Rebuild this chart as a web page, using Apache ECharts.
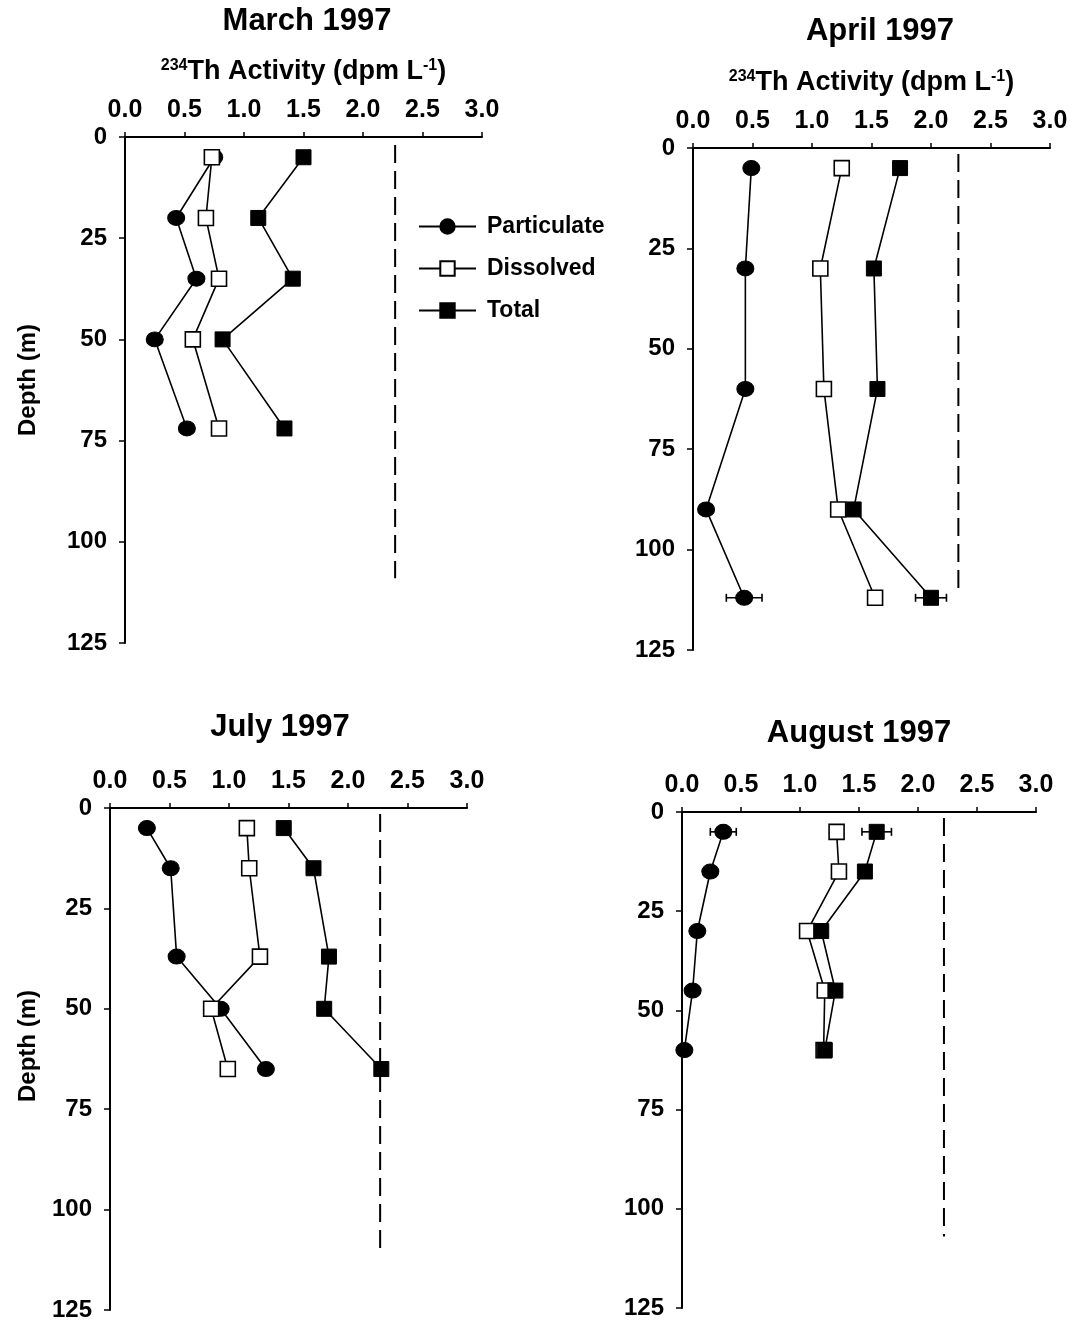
<!DOCTYPE html>
<html>
<head>
<meta charset="utf-8">
<title>234Th profiles 1997</title>
<script src="https://cdn.jsdelivr.net/npm/echarts@6/dist/echarts.min.js"></script>
<style>
  html, body { margin: 0; padding: 0; background: #ffffff; }
  #chart { width: 1074px; height: 1326px; }
</style>
</head>
<body>
<div id="chart"></div>
<script>
// ---- data: 234Th activity (dpm/L) versus depth (m), four 1997 cruises ----
const months = ['March 1997', 'April 1997', 'July 1997', 'August 1997'];
const seriesNames = ['Particulate', 'Dissolved', 'Total'];

const depthMar = [5, 20, 35, 50, 72];
const depthApr = [5, 30, 60, 90, 112];
const depthJul = [5, 15, 37, 50, 65];
const depthAug = [5, 15, 30, 45, 60];

const partMar = [0.75, 0.43, 0.60, 0.25, 0.52];
const partApr = [0.49, 0.44, 0.44, 0.11, 0.43];
const partJul = [0.31, 0.51, 0.56, 0.93, 1.31];
const partAug = [0.35, 0.24, 0.13, 0.09, 0.02];

const dissMar = [0.73, 0.68, 0.79, 0.57, 0.79];
const dissApr = [1.25, 1.07, 1.10, 1.22, 1.53];
const dissJul = [1.15, 1.17, 1.26, 0.85, 0.99];
const dissAug = [1.31, 1.33, 1.06, 1.21, 1.20];

const totMar = [1.50, 1.12, 1.41, 0.82, 1.34];
const totApr = [1.74, 1.52, 1.55, 1.35, 2.00];
const totJul = [1.46, 1.71, 1.84, 1.80, 2.28];
const totAug = [1.65, 1.55, 1.18, 1.30, 1.21];

// 238U activity (dashed reference line) and the depth range it spans
const uranium = [2.27, 2.23, 2.27, 2.22];
const uranTop = [2, 1.5, 1.5, 1.5];
const uranBottom = [109, 111, 110, 107];

// error bars: [depth, value, +/- error]
const errPartApr = [[112, 0.43, 0.15]];
const errTotApr = [[112, 2.00, 0.13]];
const errPartAug = [[5, 0.35, 0.11]];
const errTotAug = [[5, 1.65, 0.125]];

// axis ticks
const activityTicks = [0, 0.5, 1.0, 1.5, 2.0, 2.5, 3.0];
const depthTicks = [0, 25, 50, 75, 100, 125];

// ---- layout ----
const FONT = '"Liberation Sans", Arial, Helvetica, sans-serif';
const gridBoxes = [
  { left: 125, top: 137, width: 357, height: 506 },
  { left: 693, top: 148, width: 357, height: 502 },
  { left: 110, top: 808, width: 357, height: 502 },
  { left: 682, top: 812, width: 354, height: 496 }
];
const titleAt = [[307, 21], [880, 31], [280, 727], [859, 733]];
const depthLabelAt = [[28, 380], null, [28, 1046], null];
const showActivityName = [true, true, false, false];

const panels = [
  { depth: depthMar, part: partMar, diss: dissMar, tot: totMar, err: [[], []] },
  { depth: depthApr, part: partApr, diss: dissApr, tot: totApr, err: [errPartApr, errTotApr] },
  { depth: depthJul, part: partJul, diss: dissJul, tot: totJul, err: [[], []] },
  { depth: depthAug, part: partAug, diss: dissAug, tot: totAug, err: [errPartAug, errTotAug] }
];

const black = '#000000';

function pairUp(values, depths) {
  return values.map((v, k) => [v, depths[k]]);
}

// horizontal error bar with end caps, positioned through the axes
function renderErrorBar(params, api) {
  const d = api.value(0), v = api.value(1), e = api.value(2);
  const a = api.coord([v - e, d]);
  const b = api.coord([v + e, d]);
  const cap = 4;
  const st = { stroke: black, lineWidth: 1.6 };
  return {
    type: 'group',
    children: [
      { type: 'line', shape: { x1: a[0], y1: a[1], x2: b[0], y2: b[1] }, style: st },
      { type: 'line', shape: { x1: a[0], y1: a[1] - cap, x2: a[0], y2: a[1] + cap }, style: st },
      { type: 'line', shape: { x1: b[0], y1: b[1] - cap, x2: b[0], y2: b[1] + cap }, style: st }
    ]
  };
}

const grid = gridBoxes.map(g => Object.assign({ containLabel: false, outerBoundsMode: 'none' }, g));

const axisLineStyle = { show: true, lineStyle: { color: black, width: 2 } };

const xAxis = gridBoxes.map((g, i) => ({
  type: 'value',
  gridIndex: i,
  position: 'top',
  min: activityTicks[0],
  max: activityTicks[activityTicks.length - 1],
  interval: activityTicks[1] - activityTicks[0],
  axisLine: axisLineStyle,
  axisTick: { show: true, inside: false, length: 5, lineStyle: { color: black, width: 1.5 } },
  splitLine: { show: false },
  axisLabel: {
    margin: 14,
    color: black,
    fontFamily: FONT,
    fontWeight: 'bold',
    fontSize: 25,
    formatter: v => v.toFixed(1)
  },
  name: showActivityName[i] ? '{sup|234}Th Activity (dpm L{sup|-1})' : '',
  nameLocation: 'middle',
  nameGap: 52,
  nameMoveOverlap: false,
  nameTextStyle: {
    color: black,
    fontFamily: FONT,
    fontWeight: 'bold',
    fontSize: 27,
    rich: {
      sup: { fontFamily: FONT, fontWeight: 'bold', fontSize: 16, verticalAlign: 'top', color: black }
    }
  }
}));

const yAxis = gridBoxes.map((g, i) => ({
  type: 'value',
  gridIndex: i,
  inverse: true,
  min: depthTicks[0],
  max: depthTicks[depthTicks.length - 1],
  interval: depthTicks[1] - depthTicks[0],
  axisLine: axisLineStyle,
  axisTick: { show: true, inside: false, length: 6, lineStyle: { color: black, width: 1.5 } },
  splitLine: { show: false },
  axisLabel: { margin: 18, color: black, fontFamily: FONT, fontWeight: 'bold', fontSize: 24 }
}));

const series = [];
panels.forEach((p, i) => {
  // dashed 238U line
  series.push({
    type: 'line',
    name: '238U',
    xAxisIndex: i, yAxisIndex: i,
    data: [[uranium[i], uranTop[i]], [uranium[i], uranBottom[i]]],
    symbol: 'none',
    silent: true,
    z: 1,
    lineStyle: { color: black, width: 2, type: [18, 8] }
  });
  // error bars under the markers
  p.err.forEach(rows => {
    if (!rows.length) return;
    series.push({
      type: 'custom',
      name: 'error',
      xAxisIndex: i, yAxisIndex: i,
      data: rows,
      encode: { x: 1, y: 0 },
      renderItem: renderErrorBar,
      silent: true,
      z: 2
    });
  });
  series.push({
    type: 'line',
    name: seriesNames[0],
    xAxisIndex: i, yAxisIndex: i,
    data: pairUp(p.part, p.depth),
    symbol: 'circle',
    symbolSize: [17, 15],
    itemStyle: { color: black, borderColor: black, borderWidth: 1 },
    lineStyle: { color: black, width: 1.6 },
    z: 3
  });
  series.push({
    type: 'line',
    name: seriesNames[1],
    xAxisIndex: i, yAxisIndex: i,
    data: pairUp(p.diss, p.depth),
    symbol: 'rect',
    symbolSize: 15,
    itemStyle: { color: '#ffffff', borderColor: black, borderWidth: 1.6 },
    lineStyle: { color: black, width: 1.6 },
    z: 4
  });
  series.push({
    type: 'line',
    name: seriesNames[2],
    xAxisIndex: i, yAxisIndex: i,
    data: pairUp(p.tot, p.depth),
    symbol: 'rect',
    symbolSize: 15,
    itemStyle: { color: black, borderColor: black, borderWidth: 1 },
    lineStyle: { color: black, width: 1.6 },
    z: 5
  });
});

const graphic = [];
months.forEach((m, i) => {
  graphic.push({
    type: 'text',
    x: titleAt[i][0], y: titleAt[i][1],
    style: { text: m, fill: black, fontFamily: FONT, fontWeight: 'bold', fontSize: 31, align: 'center', verticalAlign: 'middle' }
  });
  if (depthLabelAt[i]) {
    graphic.push({
      type: 'text',
      x: depthLabelAt[i][0], y: depthLabelAt[i][1],
      rotation: Math.PI / 2,
      style: { text: 'Depth (m)', fill: black, fontFamily: FONT, fontWeight: 'bold', fontSize: 24, align: 'center', verticalAlign: 'middle' }
    });
  }
});

const chart = echarts.init(document.getElementById('chart'), null, { renderer: 'canvas' });
chart.setOption({
  backgroundColor: '#ffffff',
  animation: false,
  tooltip: { show: false },
  legend: {
    data: seriesNames,
    orient: 'vertical',
    left: 418,
    top: 215,
    padding: 0,
    itemWidth: 57,
    itemHeight: 18,
    itemGap: 19,
    selectedMode: false,
    textStyle: { color: black, fontFamily: FONT, fontWeight: 'bold', fontSize: 23, padding: [0, 0, 0, 6] }
  },
  grid: grid,
  xAxis: xAxis,
  yAxis: yAxis,
  series: series,
  graphic: graphic
});
</script>
</body>
</html>
